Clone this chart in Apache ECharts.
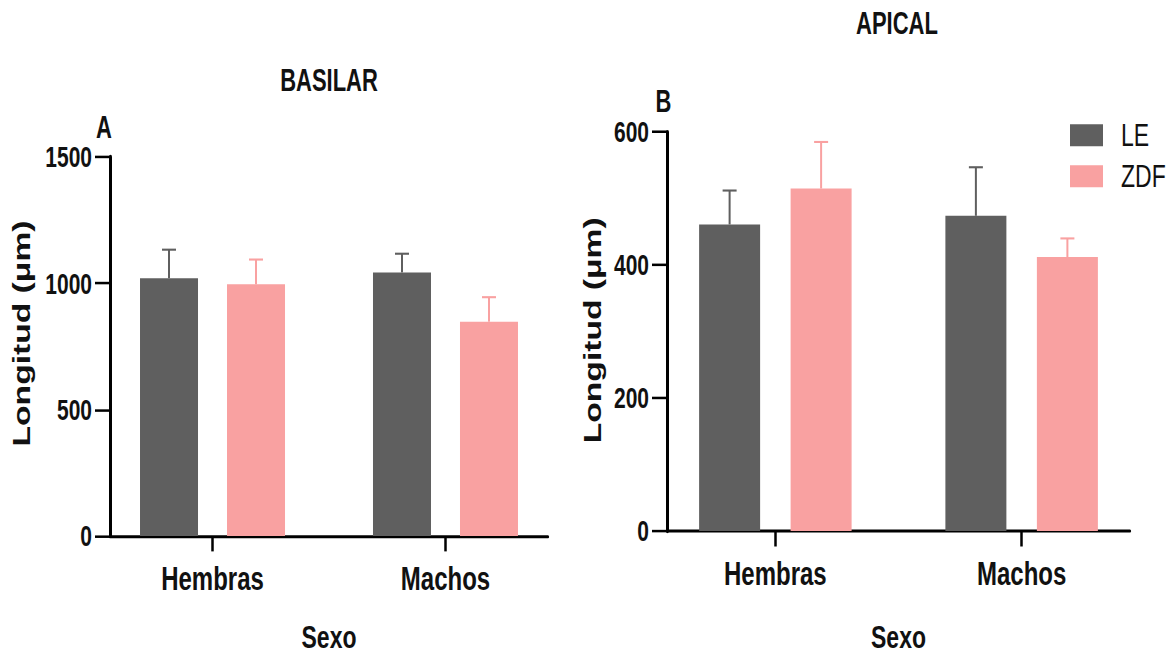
<!DOCTYPE html>
<html>
<head>
<meta charset="utf-8">
<script src="https://cdn.jsdelivr.net/npm/echarts@6/dist/echarts.min.js"></script>
<style>
  html, body { margin: 0; padding: 0; background: #fff; }
  #page { position: relative; width: 1174px; height: 660px; }
  /* the figure is drawn in a short frame and stretched vertically to its final height */
  #chart { position: absolute; left: 0; top: 0; width: 1174px; height: 471px;
           transform: scaleY(1.40127); transform-origin: 0 0; }
</style>
</head>
<body>
<div id="page"><div id="chart"></div></div>
<script>
// Dendrite length by sex, LE vs ZDF rats (mean + SD)
const categories = ['Hembras', 'Machos'];
const groupNames = ['LE', 'ZDF'];

const basilarLE = [1020, 1043];
const basilarLESd = [113, 74];
const basilarZDF = [996, 848];
const basilarZDFSd = [98, 97];

const apicalLE = [461, 474];
const apicalLESd = [51, 73];
const apicalZDF = [515, 412];
const apicalZDFSd = [70, 28];

const basilarTicks = [0, 500, 1000, 1500];
const apicalTicks = [0, 200, 400, 600];

const COLOR_LE = '#5f5f5f';
const COLOR_ZDF = '#f9a1a1';
const INK = '#111111';
const FONT = '"Liberation Sans", Arial, Helvetica, sans-serif';

const catIndex = categories.map((c, i) => i);

function barData(values) {
  return catIndex.map(i => [i, values[i]]);
}
function errData(values, sds) {
  return catIndex.map(i => [i, values[i], sds[i]]);
}

// Upper-only error bar with a short cap, shifted to sit over its bar in the group
function errorBar(color, shiftPx) {
  return function (params, api) {
    const x = api.value(0);
    const mean = api.value(1);
    const sd = api.value(2);
    const base = api.coord([x, mean]);
    const top = api.coord([x, mean + sd]);
    const cx = base[0] + shiftPx;
    return {
      type: 'group',
      children: [
        { type: 'line', shape: { x1: cx, y1: base[1], x2: cx, y2: top[1] },
          style: { stroke: color, lineWidth: 2 } },
        { type: 'line', shape: { x1: cx - 7, y1: top[1], x2: cx + 7, y2: top[1] },
          style: { stroke: color, lineWidth: 1.5 } }
      ]
    };
  };
}

function xAxisFor(gridIndex, nameGap) {
  return {
    type: 'value',
    gridIndex: gridIndex,
    min: -0.44,
    max: 1.44,
    name: 'Sexo',
    nameLocation: 'middle',
    nameGap: nameGap,
    nameTextStyle: { fontFamily: FONT, fontWeight: 'bold', fontSize: 23, color: INK },
    axisLine: { show: true, onZero: false, lineStyle: { color: '#000', width: 2.2 } },
    axisTick: { show: true, customValues: catIndex, length: 11, lineStyle: { color: '#000', width: 2.5 } },
    axisLabel: {
      show: true,
      customValues: catIndex,
      formatter: v => categories[Math.round(v)],
      margin: 18,
      fontFamily: FONT, fontWeight: 'bold', fontSize: 24, color: INK
    },
    splitLine: { show: false }
  };
}

function yAxisFor(gridIndex, ticks) {
  return {
    type: 'value',
    gridIndex: gridIndex,
    min: ticks[0],
    max: ticks[ticks.length - 1],
    interval: ticks[1] - ticks[0],
    axisLine: { show: true, onZero: false, lineStyle: { color: '#000', width: 3 } },
    axisTick: { show: true, length: 15, lineStyle: { color: '#000', width: 1.8 } },
    axisLabel: {
      margin: 18, formatter: v => String(v),
      fontFamily: FONT, fontWeight: 'bold', fontSize: 21, color: INK
    },
    splitLine: { show: false }
  };
}

const chart = echarts.init(document.getElementById('chart'), null, { renderer: 'svg' });

const option = {
  backgroundColor: '#ffffff',
  animation: false,
  grid: [
    { left: 110, top: 112, width: 438, height: 274 },
    { left: 667, top: 94.2, width: 463, height: 291.8 }
  ],
  xAxis: [xAxisFor(0, 60.5), xAxisFor(1, 64)],
  yAxis: [yAxisFor(0, basilarTicks), yAxisFor(1, apicalTicks)],
  legend: {
    data: groupNames,
    orient: 'vertical',
    left: 1070,
    top: 85,
    padding: 0,
    itemWidth: 33,
    itemHeight: 15.7,
    itemGap: 6.3,
    icon: 'rect',
    textStyle: { fontFamily: FONT, fontSize: 23, color: INK, padding: [0, 0, 0, 13] }
  },
  series: [
    { name: groupNames[0], type: 'bar', xAxisIndex: 0, yAxisIndex: 0, barWidth: 58, barGap: '50%',
      itemStyle: { color: COLOR_LE }, data: barData(basilarLE) },
    { name: groupNames[1], type: 'bar', xAxisIndex: 0, yAxisIndex: 0, barWidth: 58, barGap: '50%',
      itemStyle: { color: COLOR_ZDF }, data: barData(basilarZDF) },
    { name: groupNames[0], type: 'bar', xAxisIndex: 1, yAxisIndex: 1, barWidth: 61, barGap: '50%',
      itemStyle: { color: COLOR_LE }, data: barData(apicalLE) },
    { name: groupNames[1], type: 'bar', xAxisIndex: 1, yAxisIndex: 1, barWidth: 61, barGap: '50%',
      itemStyle: { color: COLOR_ZDF }, data: barData(apicalZDF) },
    { type: 'custom', xAxisIndex: 0, yAxisIndex: 0, renderItem: errorBar(COLOR_LE, -43.5),
      data: errData(basilarLE, basilarLESd), z: 3 },
    { type: 'custom', xAxisIndex: 0, yAxisIndex: 0, renderItem: errorBar(COLOR_ZDF, 43.5),
      data: errData(basilarZDF, basilarZDFSd), z: 3 },
    { type: 'custom', xAxisIndex: 1, yAxisIndex: 1, renderItem: errorBar(COLOR_LE, -45.75),
      data: errData(apicalLE, apicalLESd), z: 3 },
    { type: 'custom', xAxisIndex: 1, yAxisIndex: 1, renderItem: errorBar(COLOR_ZDF, 45.75),
      data: errData(apicalZDF, apicalZDFSd), z: 3 }
  ],
  graphic: [
    { type: 'text', x: 329, y: 57.3,
      style: { text: 'BASILAR', textAlign: 'center', textVerticalAlign: 'middle',
               fontFamily: FONT, fontWeight: 'bold', fontSize: 22, fill: INK } },
    { type: 'text', x: 897, y: 16.8,
      style: { text: 'APICAL', textAlign: 'center', textVerticalAlign: 'middle',
               fontFamily: FONT, fontWeight: 'bold', fontSize: 22, fill: INK } },
    { type: 'text', x: 104, y: 91,
      style: { text: 'A', textAlign: 'center', textVerticalAlign: 'middle',
               fontFamily: FONT, fontWeight: 'bold', fontSize: 22, fill: INK } },
    { type: 'text', x: 663.5, y: 72.5,
      style: { text: 'B', textAlign: 'center', textVerticalAlign: 'middle',
               fontFamily: FONT, fontWeight: 'bold', fontSize: 22, fill: INK } },
    { type: 'text', x: 22, y: 238, rotation: Math.PI / 2,
      style: { text: 'Longitud (μm)', textAlign: 'center', textVerticalAlign: 'middle',
               fontFamily: FONT, fontWeight: 'bold', fontSize: 24, fill: INK } },
    { type: 'text', x: 593, y: 235.7, rotation: Math.PI / 2,
      style: { text: 'Longitud (μm)', textAlign: 'center', textVerticalAlign: 'middle',
               fontFamily: FONT, fontWeight: 'bold', fontSize: 24, fill: INK } }
  ]
};

chart.setOption(option);
</script>
</body>
</html>
